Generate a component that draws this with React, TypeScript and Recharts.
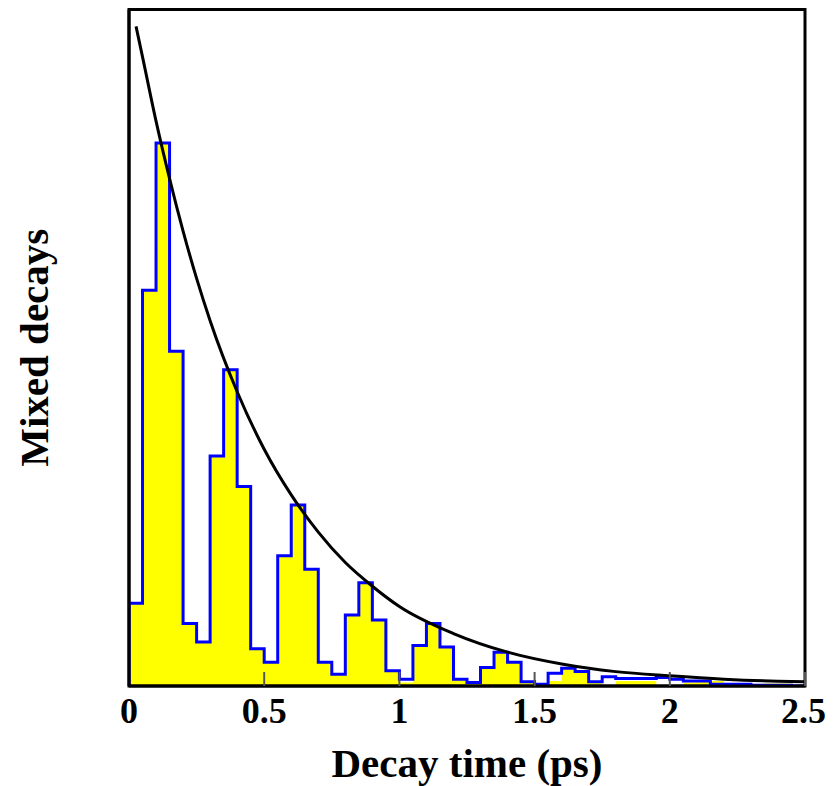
import React from 'react';
import {
  ComposedChart, Area, Line, XAxis, YAxis, ReferenceArea, Label
} from 'recharts';

// histogram bins are 0.05 ps wide, 0 -> 2.5 ps
const BIN_WIDTH = 0.05;

// yellow filled histogram (mixed decays)
const mixedCounts = [
  0.49, 2.34, 3.21, 1.98, 0.37, 0.26, 1.36, 1.87, 1.18, 0.22,
  0.14, 0.77, 1.07, 0.69, 0.14, 0.07, 0.42, 0.61, 0.39, 0.09,
  0.02, 0.24, 0.37, 0.23, 0.04, 0.01, 0.11, 0.2, 0.14, 0.02,
  0, 0.03, 0.105, 0.09, 0.02, 0, 0.03, 0.03, 0.03, 0,
  0, 0.02, 0.025, 0.03, 0, 0, 0, 0.015, 0.015, 0,
];

// blue outline histogram
const outlineCounts = [
  0.49, 2.34, 3.21, 1.98, 0.37, 0.26, 1.36, 1.87, 1.18, 0.22,
  0.14, 0.77, 1.07, 0.69, 0.14, 0.07, 0.42, 0.61, 0.39, 0.09,
  0.04, 0.24, 0.37, 0.23, 0.04, 0.02, 0.11, 0.2, 0.14, 0.025,
  0.01, 0.075, 0.105, 0.085, 0.025, 0.055, 0.045, 0.045, 0.045, 0.05,
  0.04, 0.03, 0.03, 0.01, 0.01, 0.01, 0.005, 0.005, 0.005, 0,
];

// exponential envelope
const curveTimes = [0.026, 0.05, 0.1, 0.15, 0.2, 0.25, 0.3, 0.4, 0.5, 0.6, 0.7, 0.8, 0.9, 1.0, 1.2, 1.4, 1.6, 1.8, 2.0, 2.2, 2.4, 2.5];
const curveValues = [3.9, 3.72, 3.34, 3.0, 2.69, 2.41, 2.16, 1.74, 1.4, 1.13, 0.91, 0.73, 0.59, 0.47, 0.31, 0.2, 0.13, 0.085, 0.06, 0.04, 0.028, 0.025];

const xTicks = [0, 0.5, 1, 1.5, 2, 2.5];
const yTicks = [1, 2, 3];

const histRows = [
  { t: 0, filled: 0, outline: 0 },
  ...mixedCounts.map((v, i) => ({ t: +(i * BIN_WIDTH).toFixed(2), filled: v, outline: outlineCounts[i] })),
  { t: 2.5, filled: mixedCounts[mixedCounts.length - 1], outline: outlineCounts[outlineCounts.length - 1] },
];

const curveRows = curveTimes.map((t, i) => ({ t, fit: curveValues[i] }));

const font = '"Liberation Serif", "Times New Roman", serif';

export default function App() {
  return (
    <div style={{ width: 818, height: 778 }}>
      <ComposedChart
        width={818}
        height={778}
        data={histRows}
        margin={{ top: 1.5, right: 21, bottom: 0, left: 0 }}
      >
        <XAxis
          dataKey="t"
          type="number"
          domain={[0, 2.5]}
          allowDataOverflow
          ticks={xTicks}
          height={100}
          tickSize={-14}
          tickMargin={25}
          axisLine={{ stroke: '#000', strokeWidth: 3 }}
          tickLine={{ stroke: '#555', strokeWidth: 2 }}
          tick={{ fill: '#000', fontSize: 36, fontWeight: 'bold', fontFamily: font }}
        >
          <Label
            value="Decay time (ps)"
            position="center"
            dy={26}
            style={{ fill: '#000', fontSize: 41, fontWeight: 'bold', fontFamily: font }}
          />
        </XAxis>
        <YAxis
          type="number"
          domain={[0, 4]}
          allowDataOverflow
          ticks={yTicks}
          width={121}
          tickSize={-7}
          tick={false}
          axisLine={{ stroke: '#000', strokeWidth: 3 }}
          tickLine={{ stroke: '#000', strokeWidth: 2 }}
        >
          <Label
            value="Mixed decays"
            angle={-90}
            position="center"
            dx={-35}
            style={{ fill: '#000', fontSize: 41, fontWeight: 'bold', fontFamily: font, textAnchor: 'middle' }}
          />
        </YAxis>
        <Area
          type="stepAfter"
          dataKey="filled"
          fill="#ffff00"
          fillOpacity={1}
          stroke="none"
          isAnimationActive={false}
        />
        <Line
          type="stepAfter"
          dataKey="outline"
          stroke="#0000ff"
          strokeWidth={3}
          dot={false}
          isAnimationActive={false}
        />
        <Line
          data={curveRows}
          type="monotone"
          dataKey="fit"
          stroke="#000"
          strokeWidth={3}
          dot={false}
          isAnimationActive={false}
        />
        <ReferenceArea
          x1={0}
          x2={2.5}
          y1={0}
          y2={4}
          fill="none"
          fillOpacity={0}
          stroke="#000"
          strokeWidth={3}
        />
      </ComposedChart>
    </div>
  );
}
